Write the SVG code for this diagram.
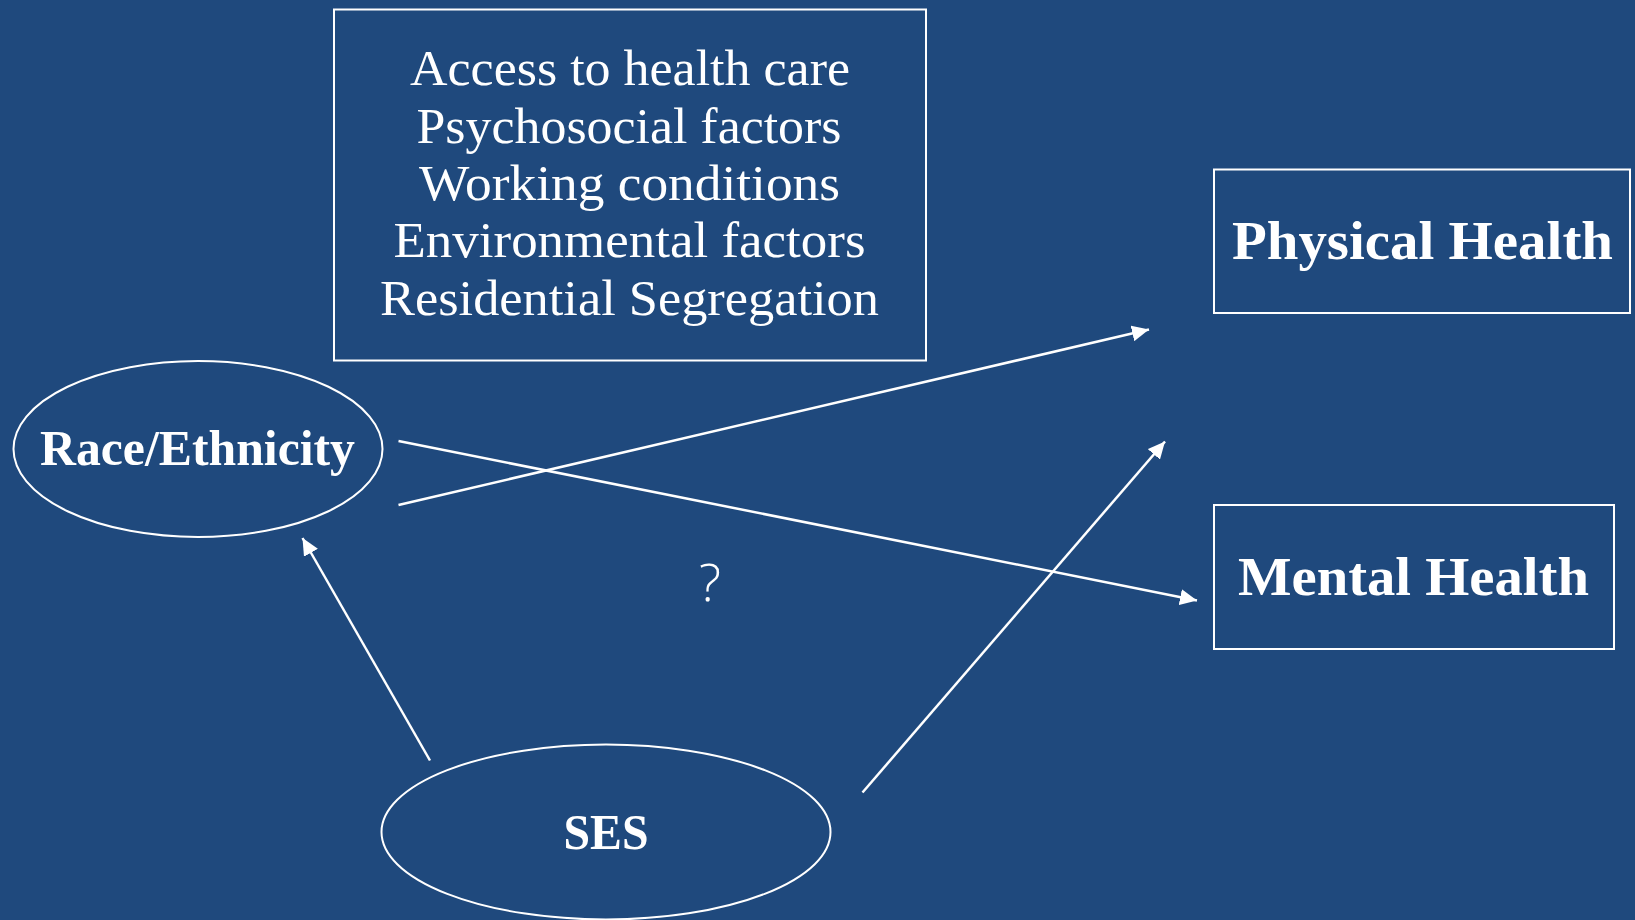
<svg xmlns="http://www.w3.org/2000/svg" width="1635" height="920" viewBox="0 0 1635 920">
<defs>
<style>
.box{fill:none;stroke:#ffffff;stroke-width:2}
.ell{fill:none;stroke:#ffffff;stroke-width:2}
.lst{font-family:"Liberation Serif","DejaVu Serif",serif;font-size:50px;fill:#ffffff;text-anchor:middle}
.bold{font-family:"Liberation Serif","DejaVu Serif",serif;font-size:50px;font-weight:bold;fill:#ffffff;text-anchor:middle}
.big{font-size:54px}
.conn{stroke:#ffffff;stroke-width:2.5;fill:none;marker-end:url(#arr)}
</style>
<marker id="arr" markerUnits="userSpaceOnUse" markerWidth="18" markerHeight="16" refX="17" refY="8" orient="auto">
<path d="M0,0 L17,8 L0,16 Z" fill="#ffffff"/>
</marker>
</defs>
<rect x="0" y="0" width="1635" height="920" fill="#1F497D"/>
<g id="factors">
<rect class="box" x="334" y="9.5" width="592" height="351"/>
<text class="lst" x="630" y="85" textLength="440" lengthAdjust="spacingAndGlyphs">Access to health care</text>
<text class="lst" x="629" y="143" textLength="425" lengthAdjust="spacingAndGlyphs">Psychosocial factors</text>
<text class="lst" x="629.5" y="200" textLength="421" lengthAdjust="spacingAndGlyphs">Working conditions</text>
<text class="lst" x="629.5" y="257" textLength="472" lengthAdjust="spacingAndGlyphs">Environmental factors</text>
<text class="lst" x="629.5" y="315" textLength="499" lengthAdjust="spacingAndGlyphs">Residential Segregation</text>
</g>
<g id="race">
<ellipse class="ell" cx="198" cy="449" rx="184.5" ry="88"/>
<text class="bold" x="197.5" y="465" textLength="315" lengthAdjust="spacingAndGlyphs">Race/Ethnicity</text>
</g>
<g id="physical">
<rect class="box" x="1214" y="169.5" width="416" height="143.5"/>
<text class="bold big" x="1422.5" y="259" textLength="381" lengthAdjust="spacingAndGlyphs">Physical Health</text>
</g>
<g id="mental">
<rect class="box" x="1214" y="505" width="400" height="144"/>
<text class="bold big" x="1413.5" y="595" textLength="351" lengthAdjust="spacingAndGlyphs">Mental Health</text>
</g>
<g id="ses">
<ellipse class="ell" cx="606" cy="832" rx="224.5" ry="87.5"/>
<text class="bold" x="606" y="849" textLength="85" lengthAdjust="spacingAndGlyphs">SES</text>
</g>
<g id="connectors">
<line class="conn" x1="398.5" y1="505" x2="1149" y2="329.5"/>
<line class="conn" x1="398.5" y1="441" x2="1197" y2="600.5"/>
<line class="conn" x1="430" y1="760.5" x2="302.5" y2="538"/>
<line class="conn" x1="862.5" y1="792.5" x2="1165" y2="441.5"/>
</g>
<text x="710" y="601" font-family="'Open Sans','DejaVu Sans',sans-serif" font-size="52" font-weight="300" fill="#ffffff" text-anchor="middle">?</text>
</svg>
